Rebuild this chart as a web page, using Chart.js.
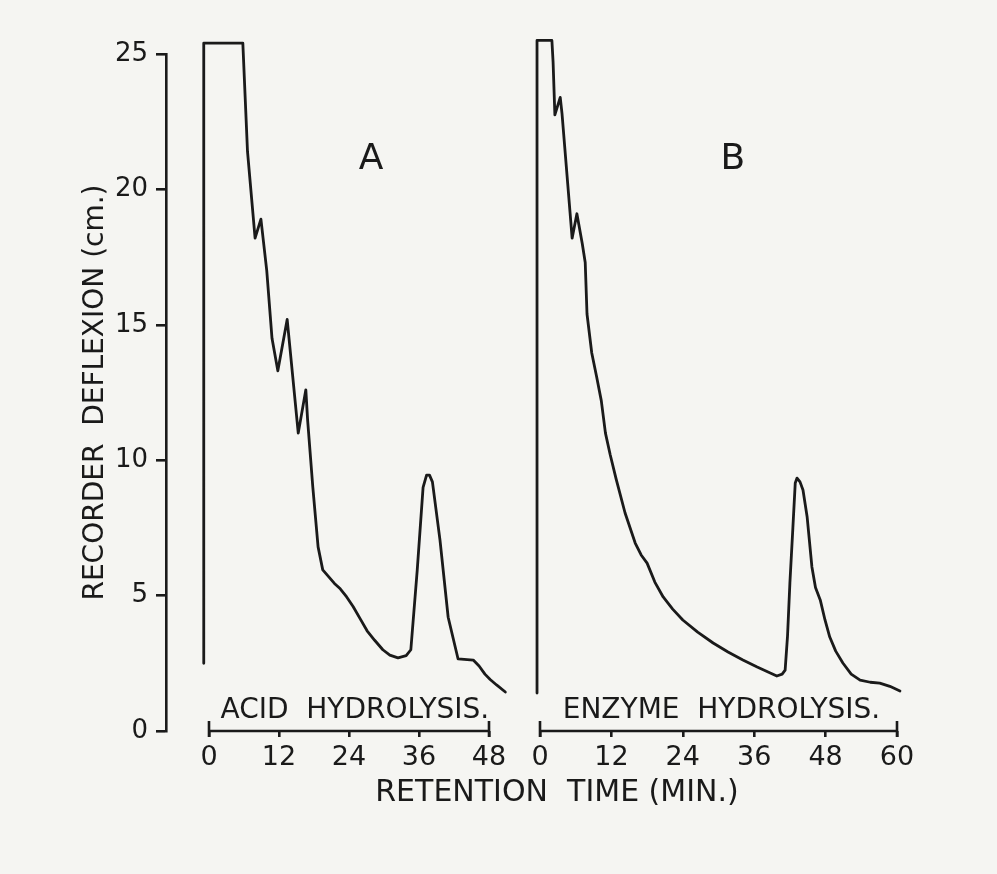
<!DOCTYPE html>
<html>
<head>
<meta charset="utf-8">
<script src="https://cdn.jsdelivr.net/npm/chart.js@4.4.0/dist/chart.umd.min.js"></script>
<style>
  body { margin: 0; background: #f5f5f2; }
  #wrap { position: relative; width: 997px; height: 874px; }
  canvas { position: absolute; left: 0; top: 0; }
  #xtitle {
    position: absolute; left: 307px; width: 500px; top: 773px;
    text-align: center; font: 30px "DejaVu Sans"; line-height: normal; color: #1a1a1a; white-space: pre;
  }
</style>
</head>
<body>
<div id="wrap">
  <canvas id="chartA" width="997" height="874"></canvas>
  <canvas id="chartB" width="997" height="874"></canvas>
  <div id="xtitle">RETENTION  TIME (MIN.)</div>
</div>
<script>
const timeA = [-0.9, -0.9, 5.8, 6.2, 6.6, 7.9, 8.9, 9.9, 10.8, 11.8, 13.4, 15.3, 16.6, 16.9, 17.8, 18.7, 19.5, 20.5, 21.5, 22.5, 23.6, 24.7, 25.9, 27.1, 28.4, 29.8, 31.0, 32.4, 33.8, 34.6, 35.7, 36.7, 37.3, 37.8, 38.3, 39.6, 41.0, 42.7, 45.3, 46.3, 47.3, 48.2, 49.3, 50.8];
const deflexionA = [2.5, 25.4, 25.4, 23.4, 21.4, 18.2, 18.9, 17.0, 14.5, 13.3, 15.2, 11.0, 12.6, 11.5, 9.0, 6.8, 5.95, 5.7, 5.45, 5.25, 4.95, 4.6, 4.15, 3.7, 3.35, 3.0, 2.8, 2.7, 2.78, 3.0, 5.95, 9.0, 9.45, 9.45, 9.2, 7.05, 4.2, 2.66, 2.62, 2.4, 2.1, 1.9, 1.7, 1.44];

const timeB = [-0.5, -0.5, 2.0, 2.2, 2.5, 3.4, 3.7, 5.4, 6.2, 7.1, 7.6, 7.9, 8.7, 9.5, 10.3, 11.0, 11.8, 12.8, 14.3, 16.0, 17.0, 18.0, 19.3, 20.7, 22.3, 24.0, 26.5, 29.1, 31.6, 34.1, 36.5, 38.7, 39.8, 40.7, 41.2, 41.6, 42.0, 42.5, 42.9, 43.2, 43.7, 44.2, 44.9, 45.7, 46.3, 47.1, 47.9, 48.7, 49.7, 50.9, 52.3, 53.8, 55.5, 57.1, 58.8, 60.5];
const deflexionB = [1.4, 25.5, 25.5, 24.7, 22.75, 23.4, 22.8, 18.2, 19.1, 18.0, 17.3, 15.4, 13.96, 13.1, 12.2, 11.0, 10.2, 9.3, 8.05, 6.94, 6.5, 6.2, 5.5, 4.95, 4.5, 4.1, 3.65, 3.25, 2.92, 2.62, 2.36, 2.14, 2.03, 2.1, 2.25, 3.5, 5.47, 7.5, 9.16, 9.34, 9.2, 8.9, 7.9, 6.06, 5.3, 4.84, 4.1, 3.47, 2.95, 2.51, 2.1, 1.88, 1.8, 1.77, 1.65, 1.48];

const yTicks = [0, 5, 10, 15, 20, 25];
const xTicksA = [0, 12, 24, 36, 48];
const xTicksB = [0, 12, 24, 36, 48, 60];

const ink = "#1a1a1a";
const fuente = '"DejaVu Sans", sans-serif';

// Eje x dibujado solo entre el primer y el último tick, con remates
const panelDecor = {
  id: "panelDecor",
  afterDraw(chart, args, opts) {
    const { ctx, chartArea, scales: { x, y } } = chart;
    const x0 = x.getPixelForValue(opts.ticks[0]);
    const x1 = x.getPixelForValue(opts.ticks[opts.ticks.length - 1]);
    const yb = chartArea.bottom;
    ctx.save();
    ctx.strokeStyle = ink;
    ctx.lineWidth = 2.6;
    ctx.beginPath();
    ctx.moveTo(x0, yb); ctx.lineTo(x1, yb);
    ctx.moveTo(x0, yb - 10); ctx.lineTo(x0, yb + 6);
    ctx.moveTo(x1, yb - 10); ctx.lineTo(x1, yb + 6);
    ctx.stroke();
    ctx.fillStyle = ink;
    ctx.textAlign = "center";
    ctx.textBaseline = "middle";
    ctx.font = "36px " + fuente;
    ctx.fillText(opts.letter, x.getPixelForValue(opts.letterX), y.getPixelForValue(opts.letterY));
    ctx.font = "28px " + fuente;
    ctx.fillText(opts.caption, x.getPixelForValue(opts.captionX), y.getPixelForValue(opts.captionY));
    ctx.restore();
  }
};

function puntos(xs, ys) {
  return xs.map((t, i) => ({ x: t, y: ys[i] }));
}

function ejeX(min, max, ticks, alto) {
  return {
    type: "linear",
    min: min,
    max: max,
    afterBuildTicks: s => { s.ticks = ticks.map(v => ({ value: v })); },
    afterFit: s => { s.height = alto; },
    grid: { drawOnChartArea: false, drawTicks: true, tickLength: 6, color: ink, lineWidth: 2.6 },
    border: { display: false },
    ticks: { color: ink, font: { family: fuente, size: 27 }, padding: 5, maxRotation: 0 }
  };
}

function dataset(xs, ys) {
  return {
    data: puntos(xs, ys),
    borderColor: ink,
    borderWidth: 2.8,
    pointRadius: 0,
    tension: 0,
    clip: false,
    borderJoinStyle: "round",
    borderCapStyle: "round"
  };
}

const pxA = 280 / 48;
const pxB = 357 / 60;
const yTop = 54, yBottom = 731;

// Panel A: hidrólisis ácida (con el eje y)
new Chart(document.getElementById("chartA"), {
  type: "line",
  data: { datasets: [dataset(timeA, deflexionA)] },
  options: {
    responsive: false,
    animation: false,
    layout: { padding: { left: 76, top: yTop, right: 997 - (209 + 52 * pxA), bottom: 0 } },
    scales: {
      x: ejeX(-43 / pxA, 52, xTicksA, 874 - yBottom),
      y: {
        min: 0,
        max: 25,
        afterBuildTicks: s => { s.ticks = yTicks.map(v => ({ value: v })); },
        afterFit: s => { s.width = 90; },
        grid: { drawOnChartArea: false, drawTicks: true, tickLength: 10, color: ink, lineWidth: 2.6 },
        border: { display: true, color: ink, width: 2.6 },
        ticks: { color: ink, font: { family: fuente, size: 26 }, padding: 8 },
        title: {
          display: true,
          text: "RECORDER  DEFLEXION (cm.)",
          color: ink,
          font: { family: fuente, size: 28 },
          padding: { top: 3, bottom: 0 }
        }
      }
    },
    plugins: {
      legend: { display: false },
      tooltip: { enabled: false },
      panelDecor: { ticks: xTicksA, letter: "A", letterX: 27.8, letterY: 21.1, caption: "ACID  HYDROLYSIS.", captionX: 25, captionY: 0.75 }
    }
  },
  plugins: [panelDecor]
});

// Panel B: hidrólisis enzimática
new Chart(document.getElementById("chartB"), {
  type: "line",
  data: { datasets: [dataset(timeB, deflexionB)] },
  options: {
    responsive: false,
    animation: false,
    layout: { padding: { left: 540 - 1.5 * pxB, top: yTop, right: 997 - (540 + 62 * pxB), bottom: 0 } },
    scales: {
      x: ejeX(-1.5, 62, xTicksB, 874 - yBottom),
      y: { display: false, min: 0, max: 25 }
    },
    plugins: {
      legend: { display: false },
      tooltip: { enabled: false },
      panelDecor: { ticks: xTicksB, letter: "B", letterX: 32.4, letterY: 21.1, caption: "ENZYME  HYDROLYSIS.", captionX: 30.5, captionY: 0.75 }
    }
  },
  plugins: [panelDecor]
});
</script>
</body>
</html>
